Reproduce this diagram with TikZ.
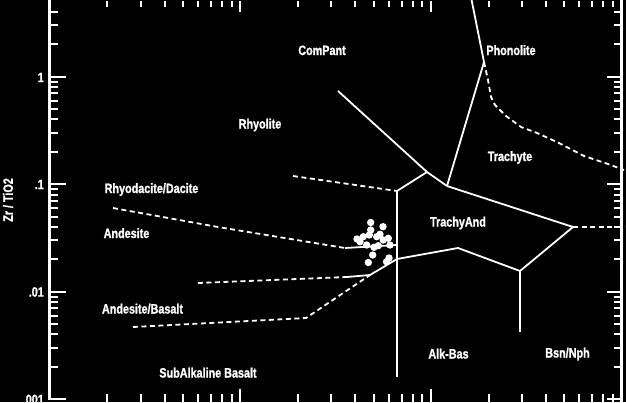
\documentclass[tikz,border=0pt]{standalone}
\usepackage{fontspec}
\newfontfamily\lab{Liberation Sans}[FakeStretch=0.8,FakeBold=1.2]
\begin{document}
\begin{tikzpicture}[x=1pt,y=-1pt,
  bnd/.style={white, line width=1.8pt, line join=round},
  bndd/.style={bnd, dash pattern=on 5pt off 3.5pt},
  tickl/.style={white, line width=2pt},
  axisl/.style={white, line width=2.7pt},
  lbl/.style={text=white, font=\lab\bfseries\fontsize{13.5}{14}\selectfont, inner sep=0pt, anchor=base},
  ylbl/.style={text=white, font=\lab\bfseries\fontsize{13.5}{14}\selectfont, inner sep=0pt, anchor=east},
  datapt/.style={circle, fill=white, inner sep=0pt, minimum size=7.4pt}]
\useasboundingbox (0,0) rectangle (626,402);
\fill[black] (0,0) rectangle (626,402);
\clip (0,0) rectangle (626,402);

% axes
\draw[axisl] (49.7,-2) -- (49.7,399.5);
\draw[axisl] (621.5,-2) -- (621.5,404);

% y ticks (log)
\foreach \e in {-3,-2,-1,0}{
  \pgfmathsetmacro\ymaj{291.7-107.5*(\e+2)}
  \draw[tickl] (49.7,\ymaj) -- (66,\ymaj);
  \draw[tickl] (621.5,\ymaj) -- (607,\ymaj);
  \foreach \m in {2,...,9}{
    \pgfmathsetmacro\yy{291.7-107.5*(\e+2+log10(\m))}
    \ifdim\yy pt>4pt
      \draw[tickl] (49.7,\yy) -- (58,\yy);
      \draw[tickl] (621.5,\yy) -- (614,\yy);
    \fi
  }
}
% x ticks (log)
\foreach \e in {-2,-1,0}{
  \pgfmathsetmacro\xmaj{49.7+190.7*(\e+2)}
  \ifnum\e>-2
    \draw[tickl] (\xmaj,1) -- (\xmaj,12);
    \draw[tickl] (\xmaj,389) -- (\xmaj,403);
  \fi
  \foreach \m in {2,...,9}{
    \pgfmathsetmacro\xx{49.7+190.7*(\e+2+log10(\m))}
    \draw[tickl] (\xx,1) -- (\xx,7);
    \draw[tickl] (\xx,394) -- (\xx,403);
  }
}

% tick labels
\node[ylbl] (l1) at (44,77.5) {1};
\node[ylbl] (l01) at (44,184.5) {.1};
\node[ylbl] (l001) at (44,292) {.01};
\node[ylbl] (l0001) at (44,399.5) {.001};
\node[lbl, anchor=center, rotate=90] (ylab) at (8,200) {Zr / TiO2};

% junctions
\coordinate (cp) at (338,91);
\coordinate (j1) at (427,172);
\coordinate (j2) at (397,191);
\coordinate (j3) at (447,186);
\coordinate (ph) at (484,62);
\coordinate (pt) at (471,-3);
\coordinate (tr) at (573,227);
\coordinate (j4) at (520,271);
\coordinate (j5) at (458,248);
\coordinate (j6) at (397,259);
\coordinate (j7) at (370,275);
\coordinate (vb) at (397,377);
\coordinate (bn) at (520,332);

% solid boundaries
\draw[bnd] (cp) -- (j1);
\draw[bnd] (j2) -- (j1) -- (j3);
\draw[bnd] (j3) -- (ph) -- (pt);
\draw[bnd] (j3) -- (tr) -- (j4) -- (j5) -- (j6) -- (j7);
\draw[bnd] (j4) -- (bn);
\draw[bnd] (j2) -- (vb);
\draw[bnd] (345,248) -- (397,245);
\draw[bnd] (347,277) -- (j7);

% dashed boundaries
\draw[bndd] (tr) -- (624,227);
\draw[bndd] (ph) -- (488,80) -- (491,97) -- (495,105) -- (506,116) -- (521,127) -- (537,133) -- (559,143) -- (584,156) -- (608,164) -- (624,170);
\draw[bndd] (293,176) -- (j2);
\draw[bndd] (113,208) -- (218,227) -- (345,248);
\draw[bndd] (198,283) -- (347,277);
\draw[bndd] (133,327) -- (306,318) -- (j7);

% data points
\foreach \px/\py [count=\i] in {370.7/222.5, 370.7/230, 383/226.7, 357/239, 363.3/236.7, 369.3/235, 376.7/236.7, 380/234.3, 388.3/238.3, 360/241.7, 366.7/245, 374/247.3, 378.3/245.7, 390/245, 383.3/240, 372.7/255, 368.3/262.5, 389/258, 386.5/261.7}
  \node[datapt] (d\i) at (\px,\py) {};

% labels
\node[lbl] (compant) at (322,55) {ComPant};
\node[lbl] (phon) at (511,55) {Phonolite};
\node[lbl] (rhy) at (260,128.5) {Rhyolite};
\node[lbl] (trach) at (510,161) {Trachyte};
\node[lbl] (rhyd) at (151.5,193) {Rhyodacite/Dacite};
\node[lbl] (and) at (126.5,238) {Andesite};
\node[lbl] (trand) at (458,226.5) {TrachyAnd};
\node[lbl] (andb) at (142.5,313.5) {Andesite/Basalt};
\node[lbl] (subalk) at (208,377.5) {SubAlkaline Basalt};
\node[lbl] (alkb) at (448.5,358.5) {Alk-Bas};
\node[lbl] (bsn) at (567.5,357.5) {Bsn/Nph};
\end{tikzpicture}
\end{document}
